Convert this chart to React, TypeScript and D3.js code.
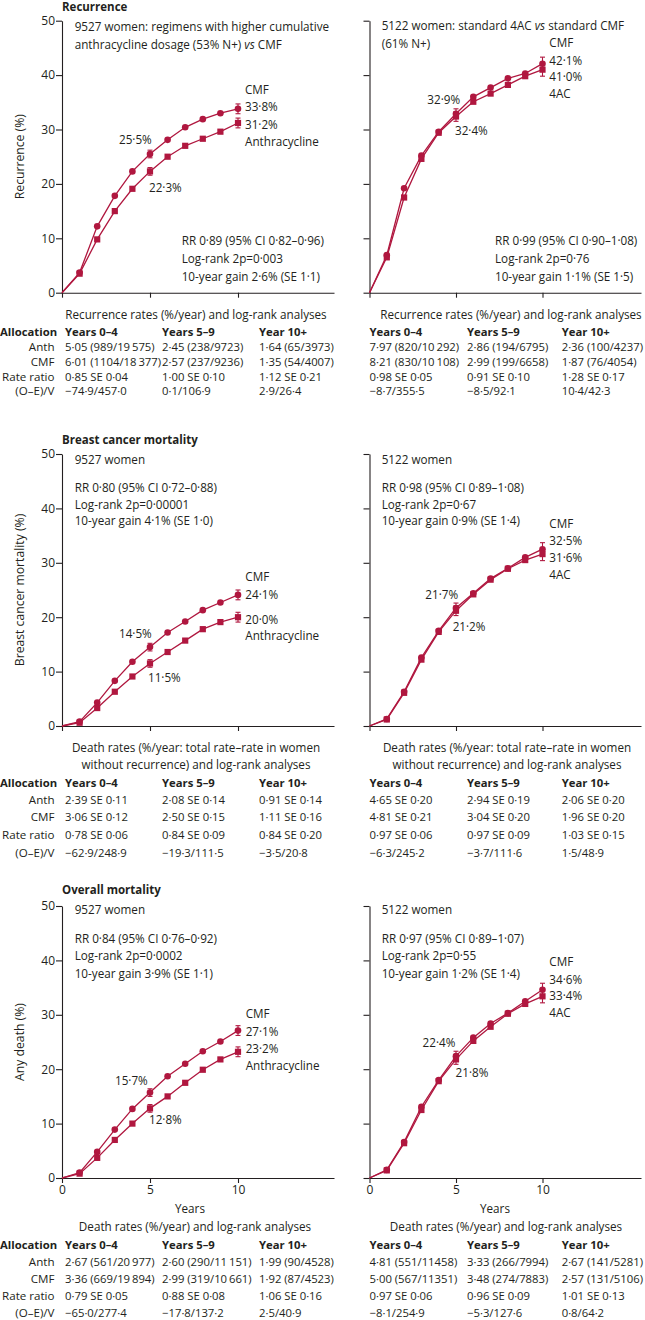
import React, { useEffect, useRef } from "react";
import * as d3 from "d3";

const RED = "#b0173f";
const FONT = "'Open Sans', Lato, sans-serif";
const FS = 11.7; // annotation text
const TS = 11.3; // table text

const years = [0, 1, 2, 3, 4, 5, 6, 7, 8, 9, 10];

// recurrence
const recCMF_L = [0, 3.7, 12.2, 17.8, 22.3, 25.5, 28.1, 30.4, 31.9, 33.0, 33.8];
const recAnth_L = [0, 3.5, 9.8, 15.0, 19.1, 22.3, 25.0, 27.0, 28.3, 29.6, 31.2];
const recCMF_R = [0, 6.9, 19.2, 25.2, 29.6, 32.9, 36.0, 37.7, 39.4, 40.3, 42.1];
const rec4AC_R = [0, 6.5, 17.5, 24.6, 29.4, 32.4, 35.1, 36.6, 38.2, 39.8, 41.0];
// breast cancer mortality
const bcmCMF_L = [0, 0.8, 4.3, 8.3, 11.8, 14.5, 17.2, 19.2, 21.3, 22.7, 24.1];
const bcmAnth_L = [0, 0.6, 3.3, 6.3, 9.1, 11.5, 13.6, 15.7, 17.8, 19.1, 20.0];
const bcmCMF_R = [0, 1.3, 6.3, 12.6, 17.5, 21.7, 24.4, 27.1, 29.0, 31.0, 32.5];
const bcm4AC_R = [0, 1.2, 6.1, 12.2, 17.3, 21.2, 24.2, 26.9, 28.9, 30.5, 31.6];
// overall mortality
const omCMF_L = [0, 1.0, 4.8, 8.9, 12.7, 15.7, 18.7, 21.0, 23.3, 25.1, 27.1];
const omAnth_L = [0, 0.8, 3.7, 7.0, 10.0, 12.8, 15.0, 17.5, 19.9, 21.8, 23.2];
const omCMF_R = [0, 1.5, 6.6, 13.1, 18.0, 22.4, 25.8, 28.4, 30.3, 32.5, 34.6];
const om4AC_R = [0, 1.4, 6.4, 12.5, 17.8, 21.8, 25.2, 27.8, 30.2, 32.0, 33.4];

// error bar half widths at years 5 and 10
const errYears = [5, 10];
const errLeft = [0.7, 0.9];
const errRight = [0.9, 1.2];

const yTicks = [0, 10, 20, 30, 40, 50];
const xTicks = [0, 5, 10];

const colHeads = ["Years 0\u20134", "Years 5\u20139", "Year 10+"];
const rowHeads = ["Anth", "CMF", "Rate ratio", "(O\u2013E)/V"];

const recTabL = [
  ["5·05 (989/19\u2009575)", "2·45 (238/9723)", "1·64 (65/3973)"],
  ["6·01 (1104/18\u2009377)", "2·57 (237/9236)", "1·35 (54/4007)"],
  ["0·85 SE 0·04", "1·00 SE 0·10", "1·12 SE 0·21"],
  ["\u221274·9/457·0", "0·1/106·9", "2·9/26·4"],
];
const recTabR = [
  ["7·97 (820/10\u2009292)", "2·86 (194/6795)", "2·36 (100/4237)"],
  ["8·21 (830/10\u2009108)", "2·99 (199/6658)", "1·87 (76/4054)"],
  ["0·98 SE 0·05", "0·91 SE 0·10", "1·28 SE 0·17"],
  ["\u22128·7/355·5", "\u22128·5/92·1", "10·4/42·3"],
];
const bcmTabL = [
  ["2·39 SE 0·11", "2·08 SE 0·14", "0·91 SE 0·14"],
  ["3·06 SE 0·12", "2·50 SE 0·15", "1·11 SE 0·16"],
  ["0·78 SE 0·06", "0·84 SE 0·09", "0·84 SE 0·20"],
  ["\u221262·9/248·9", "\u221219·3/111·5", "\u22123·5/20·8"],
];
const bcmTabR = [
  ["4·65 SE 0·20", "2·94 SE 0·19", "2·06 SE 0·20"],
  ["4·81 SE 0·21", "3·04 SE 0·20", "1·96 SE 0·20"],
  ["0·97 SE 0·06", "0·97 SE 0·09", "1·03 SE 0·15"],
  ["\u22126·3/245·2", "\u22123·7/111·6", "1·5/48·9"],
];
const omTabL = [
  ["2·67 (561/20\u2009977)", "2·60 (290/11\u2009151)", "1·99 (90/4528)"],
  ["3·36 (669/19\u2009894)", "2·99 (319/10\u2009661)", "1·92 (87/4523)"],
  ["0·79 SE 0·05", "0·88 SE 0·08", "1·06 SE 0·16"],
  ["\u221265·0/277·4", "\u221217·8/137·2", "2·5/40·9"],
];
const omTabR = [
  ["4·81 (551/11458)", "3·33 (266/7994)", "2·67 (141/5281)"],
  ["5·00 (567/11351)", "3·48 (274/7883)", "2·57 (131/5106)"],
  ["0·97 SE 0·06", "0·96 SE 0·09", "1·01 SE 0·13"],
  ["\u22128·1/254·9", "\u22125·3/127·6", "0·8/64·2"],
];

export default function App() {
  const ref = useRef<SVGSVGElement>(null);

  useEffect(() => {
    const svg = d3.select(ref.current);
    svg.selectAll("*").remove();

    const LX0 = 62, LX1 = 334, RX0 = 369.5, RX1 = 641;
    const xL = d3.scaleLinear().domain([0, (LX1 - LX0) / 17.6]).range([LX0, LX1]);
    const xR = d3.scaleLinear().domain([0, (RX1 - RX0) / 17.3]).range([RX0, RX1]);

    function txt(x: number, y: number, s: string, opt: any = {}) {
      const size = opt.size || FS;
      const t = svg.append("text")
        .attr("x", x)
        .attr("y", y + size * 0.36)
        .attr("font-family", FONT)
        .attr("font-size", size)
        .attr("font-weight", opt.bold ? 700 : 400)
        .attr("text-anchor", opt.anchor || "start")
        .attr("fill", "#231f20");
      if (opt.vs) {
        t.append("tspan").text(s);
        t.append("tspan").attr("font-style", "italic").text("vs");
        t.append("tspan").text(opt.vs);
      } else t.text(s);
      return t;
    }

    function panel(x: any, y50: number, y0: number, cmf: number[], other: number[], err: number[], leftLabels: boolean, xLabels: boolean) {
      const y = d3.scaleLinear().domain([0, 50]).range([y0, y50]);
      const g = svg.append("g");

      const ya = g.append("g")
        .attr("transform", `translate(${x(0)},0)`)
        .call(d3.axisLeft(y).tickValues(yTicks).tickSize(6).tickSizeOuter(0)
          .tickFormat(leftLabels ? (d: any) => String(d) : () => ""));
      const xa = g.append("g")
        .attr("transform", `translate(0,${y0})`)
        .call(d3.axisBottom(x).tickValues(xTicks).tickSize(5).tickSizeOuter(0)
          .tickFormat(xLabels ? (d: any) => String(d) : () => ""));
      [ya, xa].forEach((a) => {
        a.select(".domain").attr("stroke", "#231f20").attr("stroke-width", 1.1);
        a.selectAll(".tick line").attr("stroke", "#231f20").attr("stroke-width", 1.1);
        a.selectAll("text").attr("font-family", FONT).attr("font-size", 12).attr("fill", "#231f20");
      });
      ya.selectAll("text").attr("x", -7);
      xa.selectAll("text").attr("y", 7);

      const line = d3.line<number>().x((d, i) => x(years[i])).y((d) => y(d));
      [cmf, other].forEach((s, si) => {
        g.append("path").datum(s).attr("d", line).attr("fill", "none")
          .attr("stroke", RED).attr("stroke-width", 1.3);
        // error bars
        errYears.forEach((yr, k) => {
          const v = s[years.indexOf(yr)];
          const e = err[k];
          const cx = x(yr);
          g.append("line").attr("x1", cx).attr("x2", cx).attr("y1", y(v - e)).attr("y2", y(v + e))
            .attr("stroke", RED).attr("stroke-width", 1.1);
          [v - e, v + e].forEach((vv) => {
            g.append("line").attr("x1", cx - 2.5).attr("x2", cx + 2.5).attr("y1", y(vv)).attr("y2", y(vv))
              .attr("stroke", RED).attr("stroke-width", 1.1);
          });
        });
        const pts = s.map((v, i) => ({ t: years[i], v })).filter((p) => p.t > 0);
        if (si === 0) {
          g.selectAll(null).data(pts).enter().append("circle")
            .attr("cx", (d) => x(d.t)).attr("cy", (d) => y(d.v)).attr("r", 3.3).attr("fill", RED);
        } else {
          g.selectAll(null).data(pts).enter().append("rect")
            .attr("x", (d) => x(d.t) - 3.1).attr("y", (d) => y(d.v) - 3.1)
            .attr("width", 6.2).attr("height", 6.2).attr("fill", RED);
        }
      });
    }

    function table(rows: string[][], rowsY: number[], left: boolean) {
      const cols = left ? [65, 162, 259] : [369.5, 467, 561.7];
      colHeads.forEach((h, i) => txt(cols[i], rowsY[0], h, { bold: true, size: TS }));
      if (left) txt(0, rowsY[0], "Allocation", { bold: true, size: TS });
      rows.forEach((r, ri) => {
        if (left) txt(54.5, rowsY[ri + 1], rowHeads[ri], { anchor: "end", size: 11.6 });
        r.forEach((c, ci) => txt(cols[ci], rowsY[ri + 1], c, { size: TS }));
      });
    }

    function yTitle(cx: number, cy: number, s: string) {
      svg.append("text")
        .attr("transform", `translate(${cx},${cy}) rotate(-90)`)
        .attr("text-anchor", "middle").attr("dy", 4)
        .attr("font-family", FONT).attr("font-size", 12.2).attr("fill", "#231f20")
        .text(s);
    }

    // ---------- Recurrence ----------
    txt(62, 6.5, "Recurrence", { bold: true, size: 11.5 });
    panel(xL, 20.7, 292.7, recCMF_L, recAnth_L, errLeft, true, false);
    panel(xR, 20.7, 292.7, recCMF_R, rec4AC_R, errRight, false, false);
    yTitle(20, 156.7, "Recurrence (%)");

    txt(74.7, 26.7, "9527 women: regimens with higher cumulative");
    txt(74.7, 44.3, "anthracycline dosage (53% N+) ", { vs: " CMF" });
    txt(245, 89.3, "CMF"); txt(245, 106.7, "33·8%"); txt(245, 125, "31·2%"); txt(245, 141.7, "Anthracycline");
    txt(119, 140, "25·5%"); txt(149, 187.3, "22·3%");
    txt(181.7, 240.7, "RR 0·89 (95% CI 0·82–0·96)");
    txt(181.7, 258.7, "Log-rank 2p=0·003");
    txt(181.7, 276.3, "10-year gain 2·6% (SE 1·1)");

    txt(381.7, 25.7, "5122 women: standard 4AC ", { vs: " standard CMF" });
    txt(381.7, 43.3, "(61% N+)");
    txt(549.3, 42.3, "CMF"); txt(549.3, 60.7, "42·1%"); txt(549.3, 76.7, "41·0%"); txt(549.3, 94, "4AC");
    txt(427.3, 99.3, "32·9%"); txt(455, 131, "32·4%");
    txt(495, 240.7, "RR 0·99 (95% CI 0·90–1·08)");
    txt(495, 258.3, "Log-rank 2p=0·76");
    txt(495, 276.3, "10-year gain 1·1% (SE 1·5)");

    txt(196, 314.5, "Recurrence rates (%/year) and log-rank analyses", { anchor: "middle" });
    txt(511, 314.5, "Recurrence rates (%/year) and log-rank analyses", { anchor: "middle" });
    const r1 = [332, 347, 362, 376.5, 391];
    table(recTabL, r1, true);
    table(recTabR, r1, false);

    // ---------- Breast cancer mortality ----------
    txt(62, 440, "Breast cancer mortality", { bold: true, size: 11.5 });
    panel(xL, 454, 726, bcmCMF_L, bcmAnth_L, errLeft, true, false);
    panel(xR, 454, 726, bcmCMF_R, bcm4AC_R, errRight, false, false);
    yTitle(20, 590, "Breast cancer mortality (%)");

    txt(74.7, 459.3, "9527 women");
    txt(74.7, 487.7, "RR 0·80 (95% CI 0·72–0·88)");
    txt(74.7, 504.3, "Log-rank 2p=0·00001");
    txt(74.7, 521, "10-year gain 4·1% (SE 1·0)");
    txt(245.3, 576.7, "CMF"); txt(245.3, 595, "24·1%"); txt(245.3, 619.3, "20·0%"); txt(245.3, 636, "Anthracycline");
    txt(119, 633.3, "14·5%"); txt(148, 677.3, "11·5%");

    txt(381.7, 459.3, "5122 women");
    txt(381.7, 487.7, "RR 0·98 (95% CI 0·89–1·08)");
    txt(381.7, 504.3, "Log-rank 2p=0·67");
    txt(381.7, 521, "10-year gain 0·9% (SE 1·4)");
    txt(549.3, 524, "CMF"); txt(549.3, 540.7, "32·5%"); txt(549.3, 557.3, "31·6%"); txt(549.3, 575, "4AC");
    txt(425.3, 595, "21·7%"); txt(452.7, 626.7, "21·2%");

    [196, 507].forEach((cx) => {
      txt(cx, 747.3, "Death rates (%/year: total rate–rate in women", { anchor: "middle" });
      txt(cx, 764.3, "without recurrence) and log-rank analyses", { anchor: "middle" });
    });
    const r2 = [782.7, 800, 817.3, 835, 852.7];
    table(bcmTabL, r2, true);
    table(bcmTabR, r2, false);

    // ---------- Overall mortality ----------
    txt(62, 890, "Overall mortality", { bold: true, size: 11.5 });
    panel(xL, 906, 1178, omCMF_L, omAnth_L, errLeft, true, true);
    panel(xR, 906, 1178, omCMF_R, om4AC_R, errRight, false, true);
    yTitle(20, 1042, "Any death (%)");

    txt(74.7, 909.3, "9527 women");
    txt(74.7, 938.3, "RR 0·84 (95% CI 0·76–0·92)");
    txt(74.7, 956, "Log-rank 2p=0·0002");
    txt(74.7, 973.3, "10-year gain 3·9% (SE 1·1)");
    txt(245.7, 1013.3, "CMF"); txt(245.7, 1031.7, "27·1%"); txt(245.7, 1049, "23·2%"); txt(245.7, 1066, "Anthracycline");
    txt(115, 1080.7, "15·7%"); txt(149, 1120, "12·8%");

    txt(381.7, 910, "5122 women");
    txt(381.7, 938.3, "RR 0·97 (95% CI 0·89–1·07)");
    txt(381.7, 956, "Log-rank 2p=0·55");
    txt(381.7, 973.3, "10-year gain 1·2% (SE 1·4)");
    txt(549.3, 961.7, "CMF"); txt(549.3, 980, "34·6%"); txt(549.3, 995.7, "33·4%"); txt(549.3, 1012.7, "4AC");
    txt(422.6, 1042.3, "22·4%"); txt(455.6, 1072.7, "21·8%");

    txt(190, 1208.3, "Years", { anchor: "middle" });
    txt(495, 1208.3, "Years", { anchor: "middle" });
    txt(195, 1226.7, "Death rates (%/year) and log-rank analyses", { anchor: "middle" });
    txt(506, 1226.7, "Death rates (%/year) and log-rank analyses", { anchor: "middle" });
    const r3 = [1245, 1262.3, 1279, 1295.7, 1312.7];
    table(omTabL, r3, true);
    table(omTabR, r3, false);
  }, []);

  return (
    <svg ref={ref} width={645} height={1320}
      style={{ position: "absolute", left: 0, top: 0, background: "#fff" }} />
  );
}
